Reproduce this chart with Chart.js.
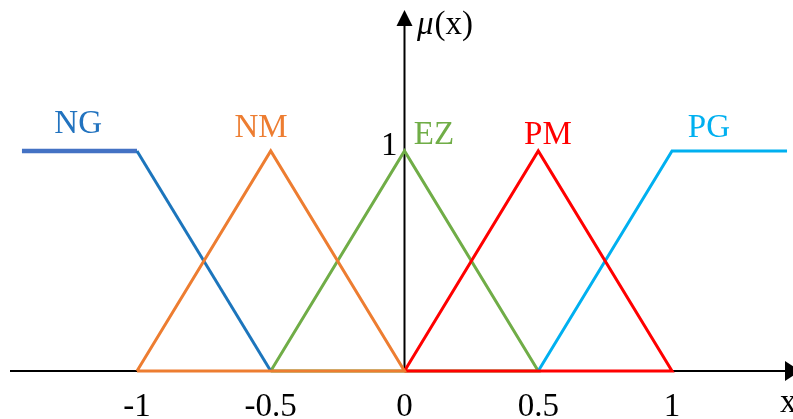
<!DOCTYPE html>
<html>
<head>
<meta charset="utf-8">
<script src="https://cdn.jsdelivr.net/npm/chart.js@4"></script>
<style>
  html, body { margin: 0; padding: 0; background: #fff; }
  #wrap { width: 793px; height: 419px; }
</style>
</head>
<body>
<div id="wrap"><canvas id="fuzzyChart"></canvas></div>
<script>
// membership functions, x / mu pairs
const ngX = [-1.43, -1, -0.5];
const ngY = [1, 1, 0];
const nmX = [-1, -0.5, 0, -1];
const nmY = [0, 1, 0, 0];
const ezX = [-0.5, 0, 0.5, -0.5];
const ezY = [0, 1, 0, 0];
const pmX = [0, 0.5, 1, 0];
const pmY = [0, 1, 0, 0];
const pgX = [0.5, 1, 1.43];
const pgY = [0, 1, 1];

const tickValues = [-1, -0.5, 0, 0.5, 1];
const tickLabels = ["-1", "-0.5", "0", "0.5", "1"];
const setNames = ["NG", "NM", "EZ", "PM", "PG"];

const serif = '"Liberation Serif", "DejaVu Serif", serif';

function pts(xs, ys) {
  return xs.map((x, i) => ({ x: x, y: ys[i] }));
}

// label anchors in data units (centre x, baseline y)
const nameSpots = [
  { x: -1.22, y: 1.082, color: "#2273BF" },
  { x: -0.536, y: 1.064, color: "#ED7D31" },
  { x: 0.11, y: 1.032, color: "#70AD47" },
  { x: 0.536, y: 1.032, color: "#FF0000" },
  { x: 1.138, y: 1.064, color: "#00B0F0" }
];

const axesPlugin = {
  id: "axesPlugin",
  beforeDatasetsDraw(chart) {
    const ctx = chart.ctx;
    const xs = chart.scales.x, ys = chart.scales.y;
    const x0 = xs.getPixelForValue(0);
    const y0 = ys.getPixelForValue(0);
    ctx.save();
    ctx.strokeStyle = "#000";
    ctx.fillStyle = "#000";
    ctx.lineWidth = 2;
    // x axis
    ctx.beginPath();
    ctx.moveTo(10, y0);
    ctx.lineTo(786, y0);
    ctx.stroke();
    ctx.beginPath();
    ctx.moveTo(785, y0 - 10);
    ctx.lineTo(800, y0);
    ctx.lineTo(785, y0 + 10);
    ctx.closePath();
    ctx.fill();
    // y axis
    ctx.beginPath();
    ctx.moveTo(x0, y0);
    ctx.lineTo(x0, 24);
    ctx.stroke();
    ctx.beginPath();
    ctx.moveTo(x0 - 8, 26);
    ctx.lineTo(x0, 10);
    ctx.lineTo(x0 + 8, 26);
    ctx.closePath();
    ctx.fill();
    ctx.restore();
  },
  afterDatasetsDraw(chart) {
    const ctx = chart.ctx;
    const xs = chart.scales.x, ys = chart.scales.y;
    ctx.save();
    ctx.font = "33px " + serif;
    ctx.textBaseline = "alphabetic";
    ctx.textAlign = "center";
    ctx.fillStyle = "#000";
    tickValues.forEach((v, i) => {
      ctx.fillText(tickLabels[i], xs.getPixelForValue(v), 416);
    });
    ctx.textAlign = "right";
    ctx.fillText("1", xs.getPixelForValue(0) - 7, ys.getPixelForValue(1) + 4);
    ctx.textAlign = "left";
    ctx.fillText("x", 780, 412);
    // mu(x)
    ctx.font = "italic 33px " + serif;
    ctx.fillText("\u03bc", 417, 34);
    const muW = ctx.measureText("\u03bc").width;
    ctx.font = "33px " + serif;
    ctx.fillText("(x)", 417 + muW + 1, 34);
    // set names
    ctx.textAlign = "center";
    setNames.forEach((name, i) => {
      const s = nameSpots[i];
      ctx.fillStyle = s.color;
      ctx.fillText(name, xs.getPixelForValue(s.x), ys.getPixelForValue(s.y));
    });
    ctx.restore();
  }
};

const lineStyle = { showLine: true, pointRadius: 0, fill: false, borderWidth: 3, tension: 0, borderJoinStyle: "miter" };

new Chart(document.getElementById("fuzzyChart"), {
  type: "scatter",
  data: {
    datasets: [
      Object.assign({}, lineStyle, {
        label: "NM", data: pts(nmX, nmY), borderColor: "#ED7D31", order: 1
      }),
      Object.assign({}, lineStyle, {
        label: "PM", data: pts(pmX, pmY), borderColor: "#FF0000", order: 1
      }),
      Object.assign({}, lineStyle, {
        label: "EZ", data: pts(ezX, ezY), borderColor: "#70AD47", order: 3
      }),
      Object.assign({}, lineStyle, {
        label: "NG", data: pts(ngX, ngY), borderColor: "#1C75BC", order: 2,
        segment: {
          borderColor: c => c.p0DataIndex === 0 ? "#4472C4" : "#1C75BC",
          borderWidth: c => c.p0DataIndex === 0 ? 4.5 : 3
        }
      }),
      Object.assign({}, lineStyle, {
        label: "PG", data: pts(pgX, pgY), borderColor: "#00B0F0", order: 2
      })
    ]
  },
  options: {
    responsive: true,
    maintainAspectRatio: false,
    animation: false,
    layout: { padding: 0 },
    plugins: { legend: { display: false }, tooltip: { enabled: false } },
    scales: {
      x: { type: "linear", display: false, min: -1.5121, max: 1.4523 },
      y: { type: "linear", display: false, min: -0.2182, max: 1.6864 }
    }
  },
  plugins: [axesPlugin]
});
</script>
</body>
</html>
